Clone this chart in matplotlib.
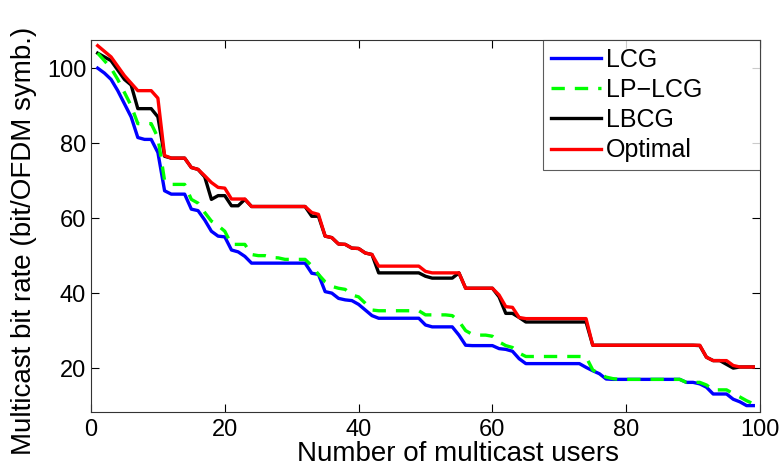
import matplotlib
matplotlib.use("Agg")
import matplotlib.pyplot as plt
from matplotlib import font_manager
import numpy as np

users = list(range(1, 100))

lcg = [100, 98.7, 97, 94, 90.5, 87, 81.5, 81, 81, 77.5,
       67.3, 66.4, 66.4, 66.4, 62.4, 62, 59.5, 56.5, 55.2, 55,
       51.5, 51, 49.8, 48, 48, 48, 48, 48, 48, 48,
       48, 48, 45.3, 45, 40.4, 40, 38.6, 38.2, 38, 37,
       35.5, 34, 33.3, 33.3, 33.3, 33.3, 33.3, 33.3, 33.3, 31.5,
       31, 31, 31, 31, 28.8, 26.1, 26, 26, 26, 26,
       25.2, 25, 24.5, 22.5, 21.2, 21.2, 21.2, 21.2, 21.2, 21.2,
       21.2, 21.2, 21.2, 20.2, 19.3, 18.5, 17.1, 17, 17, 17,
       17, 17, 17, 17, 17, 17, 17, 17, 16.2, 16.2,
       15.8, 14.9, 13.1, 13.1, 13.1, 11.7, 11, 10, 10]

lp_lcg = [104, 102, 100, 97, 93.5, 90, 85.2, 85.2, 85.2, 81.5,
          70, 69, 69, 69, 65, 64, 61.5, 59.2, 58, 56.5,
          53, 53, 53, 50.3, 50, 50, 49.5, 49.4, 49, 49,
          49, 49, 47.3, 45, 43, 41.8, 41.3, 41, 39.5, 39,
          37.3, 35.5, 35.3, 35.3, 35.3, 35.3, 35.3, 35.3, 35.3, 34.2,
          34.2, 34.2, 34.2, 34, 32.5, 30, 29, 28.8, 28.8, 28.5,
          27, 26, 25.5, 24, 23.1, 23.1, 23.1, 23.1, 23.1, 23.1,
          23.1, 23.1, 23.1, 23, 19.5, 18.5, 17.6, 17.2, 17, 17,
          17, 17, 17, 17, 17, 17, 17, 17, 16.2, 16.2,
          16.2, 15.5, 14.2, 14.2, 14.2, 13.2, 12.3, 11.3, 10.5]

lbcg = [104, 103, 102, 99.5, 97, 95.5, 89.2, 89.2, 89.2, 87,
        76.5, 76, 76, 76, 73.5, 73, 71, 65, 66, 66,
        63.3, 63.3, 65, 63.1, 63.1, 63.1, 63.1, 63.1, 63.1, 63.1,
        63.1, 63.1, 60.5, 60.5, 55.2, 54.8, 53.1, 53, 52, 51.9,
        50.7, 50.3, 45.4, 45.4, 45.4, 45.4, 45.4, 45.4, 45.4, 44.5,
        44, 44, 44, 44, 45.4, 41.3, 41.3, 41.3, 41.3, 41.3,
        39, 34.6, 34.6, 33.5, 32.3, 32.3, 32.3, 32.3, 32.3, 32.3,
        32.3, 32.3, 32.3, 32.3, 26.1, 26.1, 26.1, 26.1, 26.1, 26.1,
        26.1, 26.1, 26.1, 26.1, 26.1, 26.1, 26.1, 26.1, 26.1, 26.1,
        26, 22.9, 22, 22, 21, 20, 20.3, 20.3, 20.3]

optimal = [106, 104.5, 103, 100.5, 98, 96, 94, 94, 94, 92,
           76.7, 76, 76, 76, 73.5, 73, 71.3, 69.5, 68.2, 68,
           65.1, 65.1, 65.1, 63.1, 63.1, 63.1, 63.1, 63.1, 63.1, 63.1,
           63.1, 63.1, 61.5, 61, 55.2, 54.8, 53.1, 53, 52, 51.9,
           50.7, 50.3, 47.2, 47.2, 47.2, 47.2, 47.2, 47.2, 47.2, 45.8,
           45.4, 45.4, 45.4, 45.4, 45.4, 41.3, 41.3, 41.3, 41.3, 41.3,
           39.5, 36.4, 36.2, 33.5, 33.2, 33.2, 33.2, 33.2, 33.2, 33.2,
           33.2, 33.2, 33.2, 33.2, 26.1, 26.1, 26.1, 26.1, 26.1, 26.1,
           26.1, 26.1, 26.1, 26.1, 26.1, 26.1, 26.1, 26.1, 26.1, 26.1,
           26.1, 22.9, 22, 22, 22, 20.7, 20.3, 20.3, 20.3]

series_names = ["LCG", "LP\u2212LCG", "LBCG", "Optimal"]
xticks = [0, 20, 40, 60, 80, 100]
yticks = [20, 40, 60, 80, 100]

avail = {f.name for f in font_manager.fontManager.ttflist}
fam = ["Liberation Sans Narrow"] if "Liberation Sans Narrow" in avail else ["Liberation Sans"]
plt.rcParams["font.family"] = fam + ["DejaVu Sans"]

fig = plt.figure(figsize=(7.79, 4.71), dpi=100)
ax = fig.add_axes([0.1168, 0.1253, 0.8588, 0.7897])

lw = 2.4
ax.plot(users, lcg, color="#0000ff", lw=lw, label=series_names[0], zorder=3)
ax.plot(users, lp_lcg, color="#00ff00", lw=lw, ls=(0, (4, 3)), label=series_names[1], zorder=4)
ax.plot(users, lbcg, color="black", lw=lw, label=series_names[2], zorder=2)
ax.plot(users, optimal, color="#ff0000", lw=lw, label=series_names[3], zorder=3)

ax.set_xlim(0, 100)
ax.set_ylim(8.3, 107.5)
ax.set_xticks(xticks)
ax.set_yticks(yticks)
ax.tick_params(direction="in", top=True, right=True, length=6, width=0.8,
               labelsize=17, colors="black")
ax.tick_params(axis="x", pad=5)
for s in ax.spines.values():
    s.set_linewidth(0.8)
    s.set_color("#333333")

ax.set_xlabel("Number of multicast users", fontsize=20)
ax.xaxis.set_label_coords(0.549, -0.078)
ax.set_ylabel("Multicast bit rate (bit/OFDM symb.)", fontsize=20)
ax.yaxis.set_label_coords(-0.08, 0.46)

leg = ax.legend(loc="upper left", bbox_to_anchor=(0.676, 1.0, 0.324, 0.0),
                mode="expand", fontsize=18, frameon=True, fancybox=False,
                borderaxespad=0, handlelength=2.0, handletextpad=0.2,
                labelspacing=0.25, borderpad=0.3)
leg.get_frame().set_edgecolor("#333333")
leg.get_frame().set_linewidth(0.8)

fig.savefig("out.png", dpi=100)
